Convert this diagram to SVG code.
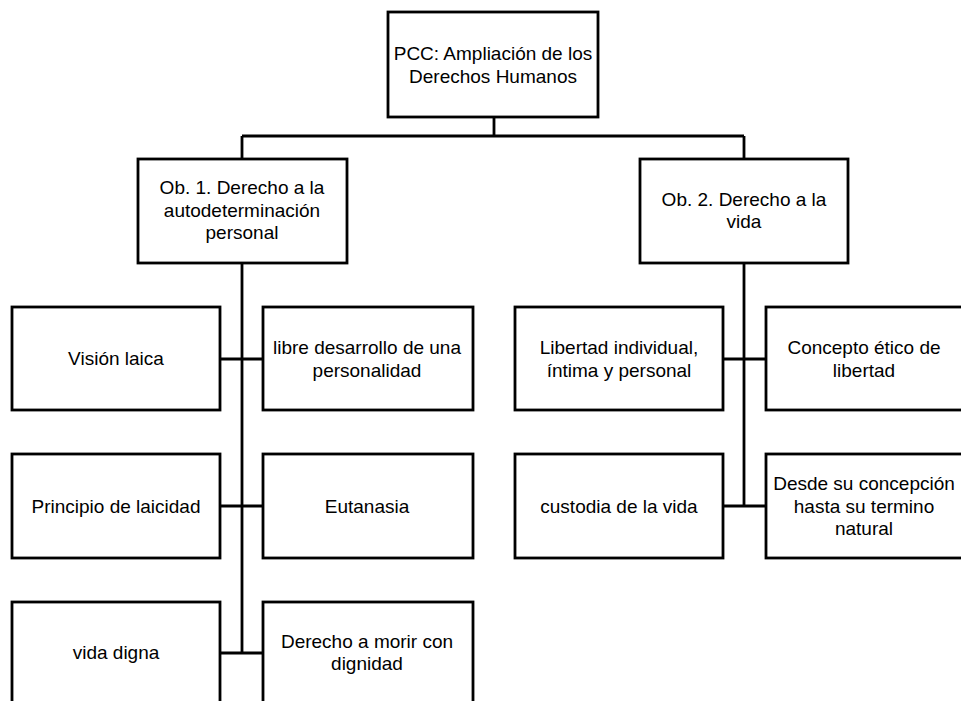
<svg xmlns="http://www.w3.org/2000/svg" width="961" height="701" viewBox="0 0 961 701">
  <style>
    .box { fill: #ffffff; stroke: #000000; stroke-width: 2.8; }
    .wire { fill: none; stroke: #000000; stroke-width: 2.8; }
    text { font-family: "Liberation Sans", Arial, sans-serif; font-size: 19px; fill: #000000; text-anchor: middle; }
  </style>
  <rect width="961" height="701" fill="#ffffff"/>

  <!-- connectors -->
  <g id="connectors">
    <path class="wire" d="M494 117 V136 M242 136 H744 M242 136 V159 M744 136 V159"/>
    <path class="wire" d="M242 263 V653 M220 359 H263 M220 506 H263 M220 653 H263"/>
    <path class="wire" d="M744 263 V506 M723 359 H766 M723 506 H766"/>
  </g>

  <!-- root -->
  <g id="root">
    <rect class="box" x="388" y="12" width="210" height="105"/>
    <text x="493" y="60">PCC: Ampliación de los</text>
    <text x="493" y="83">Derechos Humanos</text>
  </g>

  <!-- objectives -->
  <g id="ob1">
    <rect class="box" x="138" y="159" width="209" height="104"/>
    <text x="242" y="194">Ob. 1. Derecho a la</text>
    <text x="242" y="217">autodeterminación</text>
    <text x="242" y="239">personal</text>
  </g>
  <g id="ob2">
    <rect class="box" x="640" y="159" width="208" height="104"/>
    <text x="744" y="206">Ob. 2. Derecho a la</text>
    <text x="744" y="228">vida</text>
  </g>

  <!-- objective 1 items -->
  <g id="vision-laica">
    <rect class="box" x="12" y="307" width="208" height="103"/>
    <text x="116" y="365">Visión laica</text>
  </g>
  <g id="libre-desarrollo">
    <rect class="box" x="263" y="307" width="210" height="103"/>
    <text x="367" y="354">libre desarrollo de una</text>
    <text x="367" y="377">personalidad</text>
  </g>
  <g id="principio-laicidad">
    <rect class="box" x="12" y="454" width="208" height="104"/>
    <text x="116" y="513">Principio de laicidad</text>
  </g>
  <g id="eutanasia">
    <rect class="box" x="263" y="454" width="210" height="104"/>
    <text x="367" y="513">Eutanasia</text>
  </g>
  <g id="vida-digna">
    <rect class="box" x="12" y="602" width="208" height="104"/>
    <text x="116" y="659">vida digna</text>
  </g>
  <g id="morir-dignidad">
    <rect class="box" x="263" y="602" width="210" height="104"/>
    <text x="367" y="648">Derecho a morir con</text>
    <text x="367" y="670">dignidad</text>
  </g>

  <!-- objective 2 items -->
  <g id="libertad-individual">
    <rect class="box" x="515" y="307" width="208" height="103"/>
    <text x="619" y="354">Libertad individual,</text>
    <text x="619" y="377">íntima y personal</text>
  </g>
  <g id="concepto-etico">
    <rect class="box" x="766" y="307" width="206" height="103"/>
    <text x="864" y="354">Concepto ético de</text>
    <text x="864" y="377">libertad</text>
  </g>
  <g id="custodia-vida">
    <rect class="box" x="515" y="454" width="208" height="104"/>
    <text x="619" y="513">custodia de la vida</text>
  </g>
  <g id="concepcion-termino">
    <rect class="box" x="766" y="454" width="206" height="104"/>
    <text x="864" y="490">Desde su concepción</text>
    <text x="864" y="513">hasta su termino</text>
    <text x="864" y="535">natural</text>
  </g>
</svg>
